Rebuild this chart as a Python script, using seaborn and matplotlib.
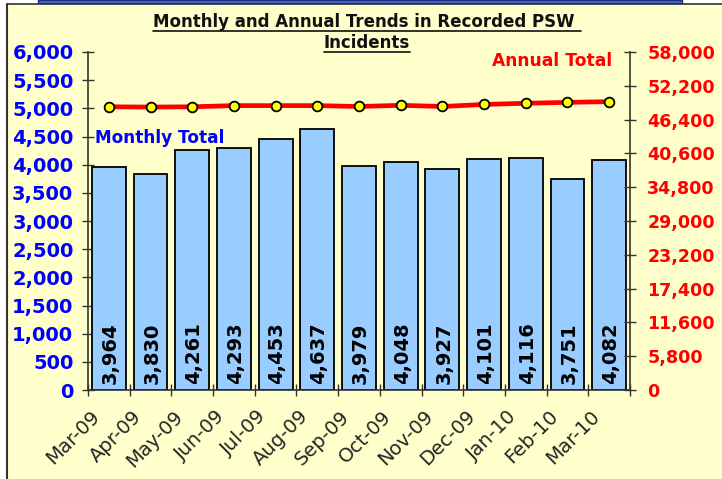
import matplotlib
matplotlib.use("Agg")
import matplotlib.pyplot as plt
from matplotlib.lines import Line2D
from matplotlib.patches import Rectangle
from matplotlib.ticker import FixedLocator, FuncFormatter
from matplotlib.transforms import ScaledTranslation
import seaborn as sns
import pandas as pd
import numpy as np

# Monthly recorded PSW incidents and rolling 12-month totals
months = ["Mar-09", "Apr-09", "May-09", "Jun-09", "Jul-09", "Aug-09", "Sep-09",
          "Oct-09", "Nov-09", "Dec-09", "Jan-10", "Feb-10", "Mar-10"]
monthly_total = [3964, 3830, 4261, 4293, 4453, 4637, 3979, 4048, 3927, 4101, 4116, 3751, 4082]
annual_total = [48600, 48550, 48600, 48800, 48800, 48800, 48650, 48850, 48650, 49000, 49200, 49360, 49478]

left_ticks = list(range(0, 6001, 500))
right_ticks = list(range(0, 58001, 5800))

sns.set_theme(style="white")
plt.rcParams["font.family"] = ["DejaVu Sans"]

BG = "#FFFFCC"
BAR = "#99CCFF"

df = pd.DataFrame({"month": months, "monthly": monthly_total, "annual": annual_total})

fig = plt.figure(figsize=(7.22, 4.79), dpi=100)
fig.patch.set_facecolor("white")

# page background panel and borders
fig.patches.append(Rectangle((7 / 722, 0), 1, 1 - 4 / 479, transform=fig.transFigure,
                             facecolor=BG, edgecolor="none", zorder=-5))
fig.add_artist(Line2D([7 / 722, 7 / 722], [0, 1 - 4 / 479], transform=fig.transFigure,
                      color="#333333", lw=1.5))
fig.add_artist(Line2D([7 / 722, 1], [1 - 4 / 479, 1 - 4 / 479], transform=fig.transFigure,
                      color="#333333", lw=1.2))
fig.patches.append(Rectangle((38 / 722, 1 - 3 / 479), (682 - 38) / 722, 3 / 479,
                             transform=fig.transFigure, facecolor="#4A6FD0",
                             edgecolor="#1A2E80", lw=1, zorder=1))

ax = fig.add_axes([88 / 722, 89 / 479, (630 - 88) / 722, (427 - 89) / 479])
ax.set_facecolor(BG)

sns.barplot(data=df, x="month", y="monthly", ax=ax, color=BAR, width=0.81,
            edgecolor="black", linewidth=1.3, saturation=1)

ax.set_ylim(0, 6000)
ax.set_xlim(-0.5, len(months) - 0.5)
ax.yaxis.set_major_locator(FixedLocator(left_ticks))
ax.yaxis.set_major_formatter(FuncFormatter(lambda v, p: f"{int(v):,}"))
ax.tick_params(axis="y", direction="inout", length=9, width=1, color="#333333",
               labelsize=14, labelcolor="#0000FF", pad=6, left=True)
for lab in ax.get_yticklabels():
    lab.set_fontweight("bold")

# category labels at bar centres, tick marks on category boundaries
ax.set_xticks(range(len(months)))
ax.set_xticklabels(months, rotation=45, ha="right", rotation_mode="anchor", fontsize=14)
ax.tick_params(axis="x", which="major", length=0, pad=12)
shift = ScaledTranslation(-19 / 100, 0, fig.dpi_scale_trans)
for lab in ax.get_xticklabels():
    lab.set_transform(lab.get_transform() + shift)
ax.set_xticks(np.arange(-0.5, len(months), 1.0), minor=True)
ax.tick_params(axis="x", which="minor", direction="inout", length=9, width=1,
               color="#333333", bottom=True)
ax.set_xlabel("")
ax.set_ylabel("")

for s in ["top", "right"]:
    ax.spines[s].set_visible(False)
for s in ["left", "bottom"]:
    ax.spines[s].set_color("#333333")
    ax.spines[s].set_linewidth(1.2)

for i, v in enumerate(monthly_total):
    ax.annotate(f"{v:,}", xy=(i, 0), xytext=(1, 4), textcoords="offset points",
                rotation=90, ha="center", va="bottom", fontsize=14,
                fontweight="bold", color="black")

ax2 = ax.twinx()
sns.lineplot(x=np.arange(len(months)), y=annual_total, ax=ax2, color="#FF0000",
             lw=3.4, marker="o", markersize=7, markerfacecolor="#FFFF00",
             markeredgecolor="black", markeredgewidth=1.3)
ax2.set_ylim(0, 58000)
ax2.yaxis.set_major_locator(FixedLocator(right_ticks))
ax2.yaxis.set_major_formatter(FuncFormatter(lambda v, p: f"{int(v):,}"))
ax2.tick_params(axis="y", direction="inout", length=9, width=1, color="#333333",
                labelsize=12.6, labelcolor="#FF0000", pad=8, right=True)
for lab in ax2.get_yticklabels():
    lab.set_fontweight("bold")
for s in ["top", "left", "bottom"]:
    ax2.spines[s].set_visible(False)
ax2.spines["right"].set_color("#333333")
ax2.spines["right"].set_linewidth(1.2)
ax2.set_ylabel("")

fig.text(95 / 722, 1 - 138 / 479, "Monthly Total", color="#0000FF", fontsize=12.2,
         fontweight="bold", ha="left", va="center")
fig.text(612 / 722, 1 - 61 / 479, "Annual Total", color="#FF0000", fontsize=12.3,
         fontweight="bold", ha="right", va="center")

# two-line underlined title
t1 = fig.text(367 / 722, 1 - 22 / 479, "Monthly and Annual Trends in Recorded PSW ",
              fontsize=12, fontweight="bold", ha="center", va="center", color="#111111")
t2 = fig.text(367 / 722, 1 - 43 / 479, "Incidents",
              fontsize=12, fontweight="bold", ha="center", va="center", color="#111111")
fig.canvas.draw()
renderer = fig.canvas.get_renderer()
inv = fig.transFigure.inverted()
for t in (t1, t2):
    bb = t.get_window_extent(renderer)
    (x0, y0), (x1, y1) = inv.transform([(bb.x0, bb.y0), (bb.x1, bb.y1)])
    fig.add_artist(Line2D([x0, x1], [y0 + 0.5 / 479, y0 + 0.5 / 479],
                          transform=fig.transFigure, color="#111111", lw=1.2))

fig.savefig("out.png", dpi=100, facecolor=fig.get_facecolor())
